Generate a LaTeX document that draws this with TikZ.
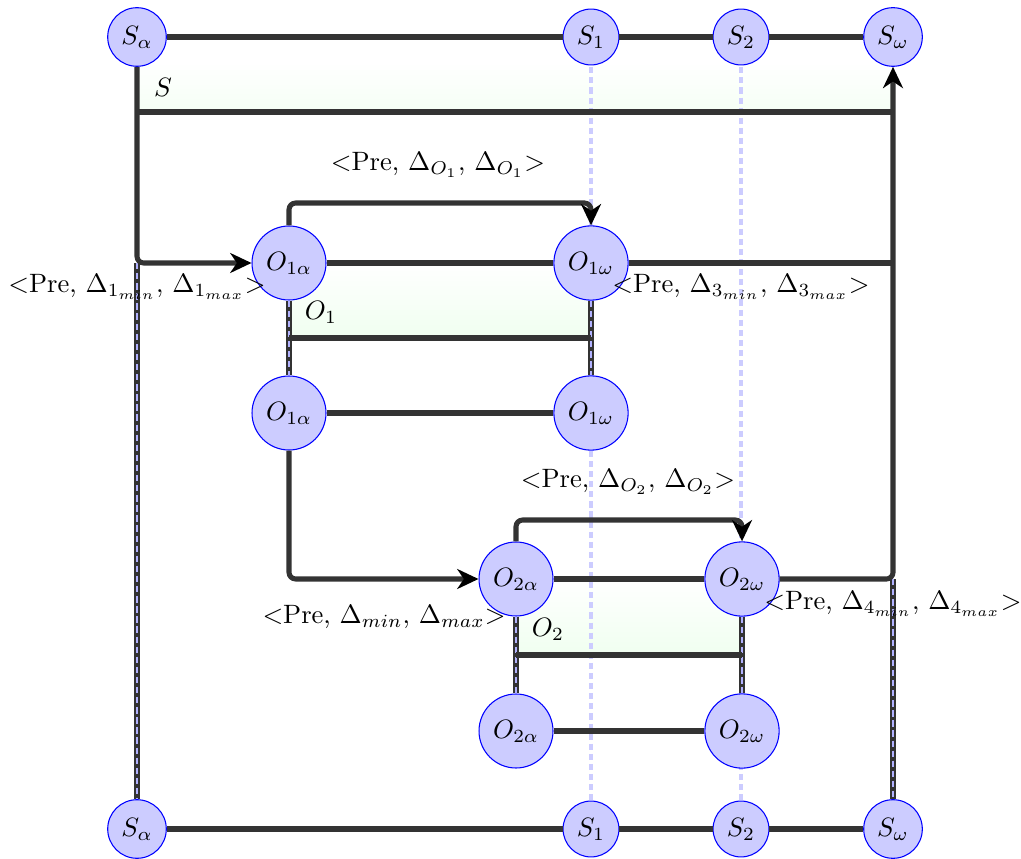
\documentclass[tikz,border=0pt]{standalone}
\usetikzlibrary{arrows.meta}
\begin{document}
\begin{tikzpicture}[x=0.013228cm,y=-0.013228cm,
  st/.style={circle,draw=blue,fill=blue!20,inner sep=2.7pt},
  opn/.style={circle,draw=blue,fill=blue!20,inner sep=3.2pt},
  ln/.style={draw=black!80,line width=1.9pt},
  arr/.style={ln,rounded corners=2.5pt,-{Stealth[length=8pt,width=7.5pt,inset=2.5pt,black]}},
  seam/.style={draw=blue!20,line width=1.8pt,dash pattern=on 2.3pt off 1.5pt},
  dseamo/.style={draw=black!80,line width=2.1pt},
  dseami/.style={draw=blue!30,line width=0.9pt,dash pattern=on 2.4pt off 1.4pt},
  lab/.style={inner sep=0pt}]
\useasboundingbox (0,0) rectangle (1021,859);
% fills
\fill[top color=white,bottom color=green!4] (137,62) rectangle (893,112);
\fill[top color=white,bottom color=green!6] (289,263) rectangle (591,338);
\fill[top color=white,bottom color=green!6] (516,579) rectangle (742,655);
% coordinates
\coordinate (cl1) at (137,263);
\coordinate (cl2) at (137,112);
\coordinate (cr1) at (893,263);
\coordinate (cr2) at (893,112);
\coordinate (cr3) at (893,579);
\coordinate (c1bl) at (289,338);
\coordinate (c1br) at (591,338);
\coordinate (c2bl) at (516,655);
\coordinate (c2br) at (742,655);
\coordinate (cmid) at (289,579);
\path (137,37) coordinate (pSa) (591,37) coordinate (pS1) (741,37) coordinate (pS2) (893,37) coordinate (pSw)
      (137,829) coordinate (qSa) (591,829) coordinate (qS1) (741,829) coordinate (qS2) (893,829) coordinate (qSw);
% seam lines
\draw[seam] (pS1) -- (qS1);
\draw[seam] (pS2) -- (qS2);
% nodes
\node[st] (Sa) at (pSa) {$S_\alpha$};
\node[st] (S1) at (pS1) {$S_1$};
\node[st] (S2) at (pS2) {$S_2$};
\node[st] (Sw) at (pSw) {$S_\omega$};
\node[st] (Sab) at (qSa) {$S_\alpha$};
\node[st] (S1b) at (qS1) {$S_1$};
\node[st] (S2b) at (qS2) {$S_2$};
\node[st] (Swb) at (qSw) {$S_\omega$};
\node[opn] (O1a) at (289,263) {$O_{1\alpha}$};
\node[opn] (O1w) at (591,263) {$O_{1\omega}$};
\node[opn] (O1ab) at (289,413) {$O_{1\alpha}$};
\node[opn] (O1wb) at (591,413) {$O_{1\omega}$};
\node[opn] (O2a) at (516,579) {$O_{2\alpha}$};
\node[opn] (O2w) at (742,579) {$O_{2\omega}$};
\node[opn] (O2ab) at (516,731) {$O_{2\alpha}$};
\node[opn] (O2wb) at (742,731) {$O_{2\omega}$};
% double seam lines
\foreach \a/\b in {cl1/Sab,cr3/Swb,O1a/O1ab,O1w/O1wb,O2a/O2ab,O2w/O2wb}{
  \draw[dseamo] (\a) -- (\b);
  \draw[dseami] (\a) -- (\b);
}
% solid connectors
\draw[ln] (Sa) -- (S1);
\draw[ln] (S1) -- (S2);
\draw[ln] (S2) -- (Sw);
\draw[ln] (Sab) -- (S1b);
\draw[ln] (S1b) -- (S2b);
\draw[ln] (S2b) -- (Swb);
\draw[ln] (cl2) -- (cr2);
\draw[ln] (O1a) -- (O1w);
\draw[ln] (O1w) -- (cr1);
\draw[ln] (c1bl) -- (c1br);
\draw[ln] (O1ab) -- (O1wb);
\draw[ln] (O2a) -- (O2w);
\draw[ln] (c2bl) -- (c2br);
\draw[ln] (O2ab) -- (O2wb);
% arrows
\draw[arr] (Sa) -- (cl1) -- (O1a);
\draw[arr] (O2w) -- (cr3) -- (Sw);
\draw[arr] (O1ab) -- (cmid) -- (O2a);
\draw[arr] (O1a) |- (440,203) -| (O1w);
\draw[arr] (O2a) |- (630,520) -| (O2w);
% labels
\node[lab] (lS) at (163,87) {$S$};
\node[lab] (lO1) at (321,312) {$O_1$};
\node[lab] (lO2) at (548,629) {$O_2$};
\node[lab] (l1) at (137,287) {$<$Pre, $\Delta_{1_{min}}$, $\Delta_{1_{max}}$$>$};
\node[lab] (l3) at (741,287) {$<$Pre, $\Delta_{3_{min}}$, $\Delta_{3_{max}}$$>$};
\node[lab] (lm) at (384,617) {$<$Pre, $\Delta_{min}$, $\Delta_{max}$$>$};
\node[lab] (l4) at (893,604) {$<$Pre, $\Delta_{4_{min}}$, $\Delta_{4_{max}}$$>$};
\node[lab] (lo1) at (438,165) {$<$Pre, $\Delta_{O_1}$, $\Delta_{O_1}$$>$};
\node[lab] (lo2) at (628,482) {$<$Pre, $\Delta_{O_2}$, $\Delta_{O_2}$$>$};
\end{tikzpicture}
\end{document}
